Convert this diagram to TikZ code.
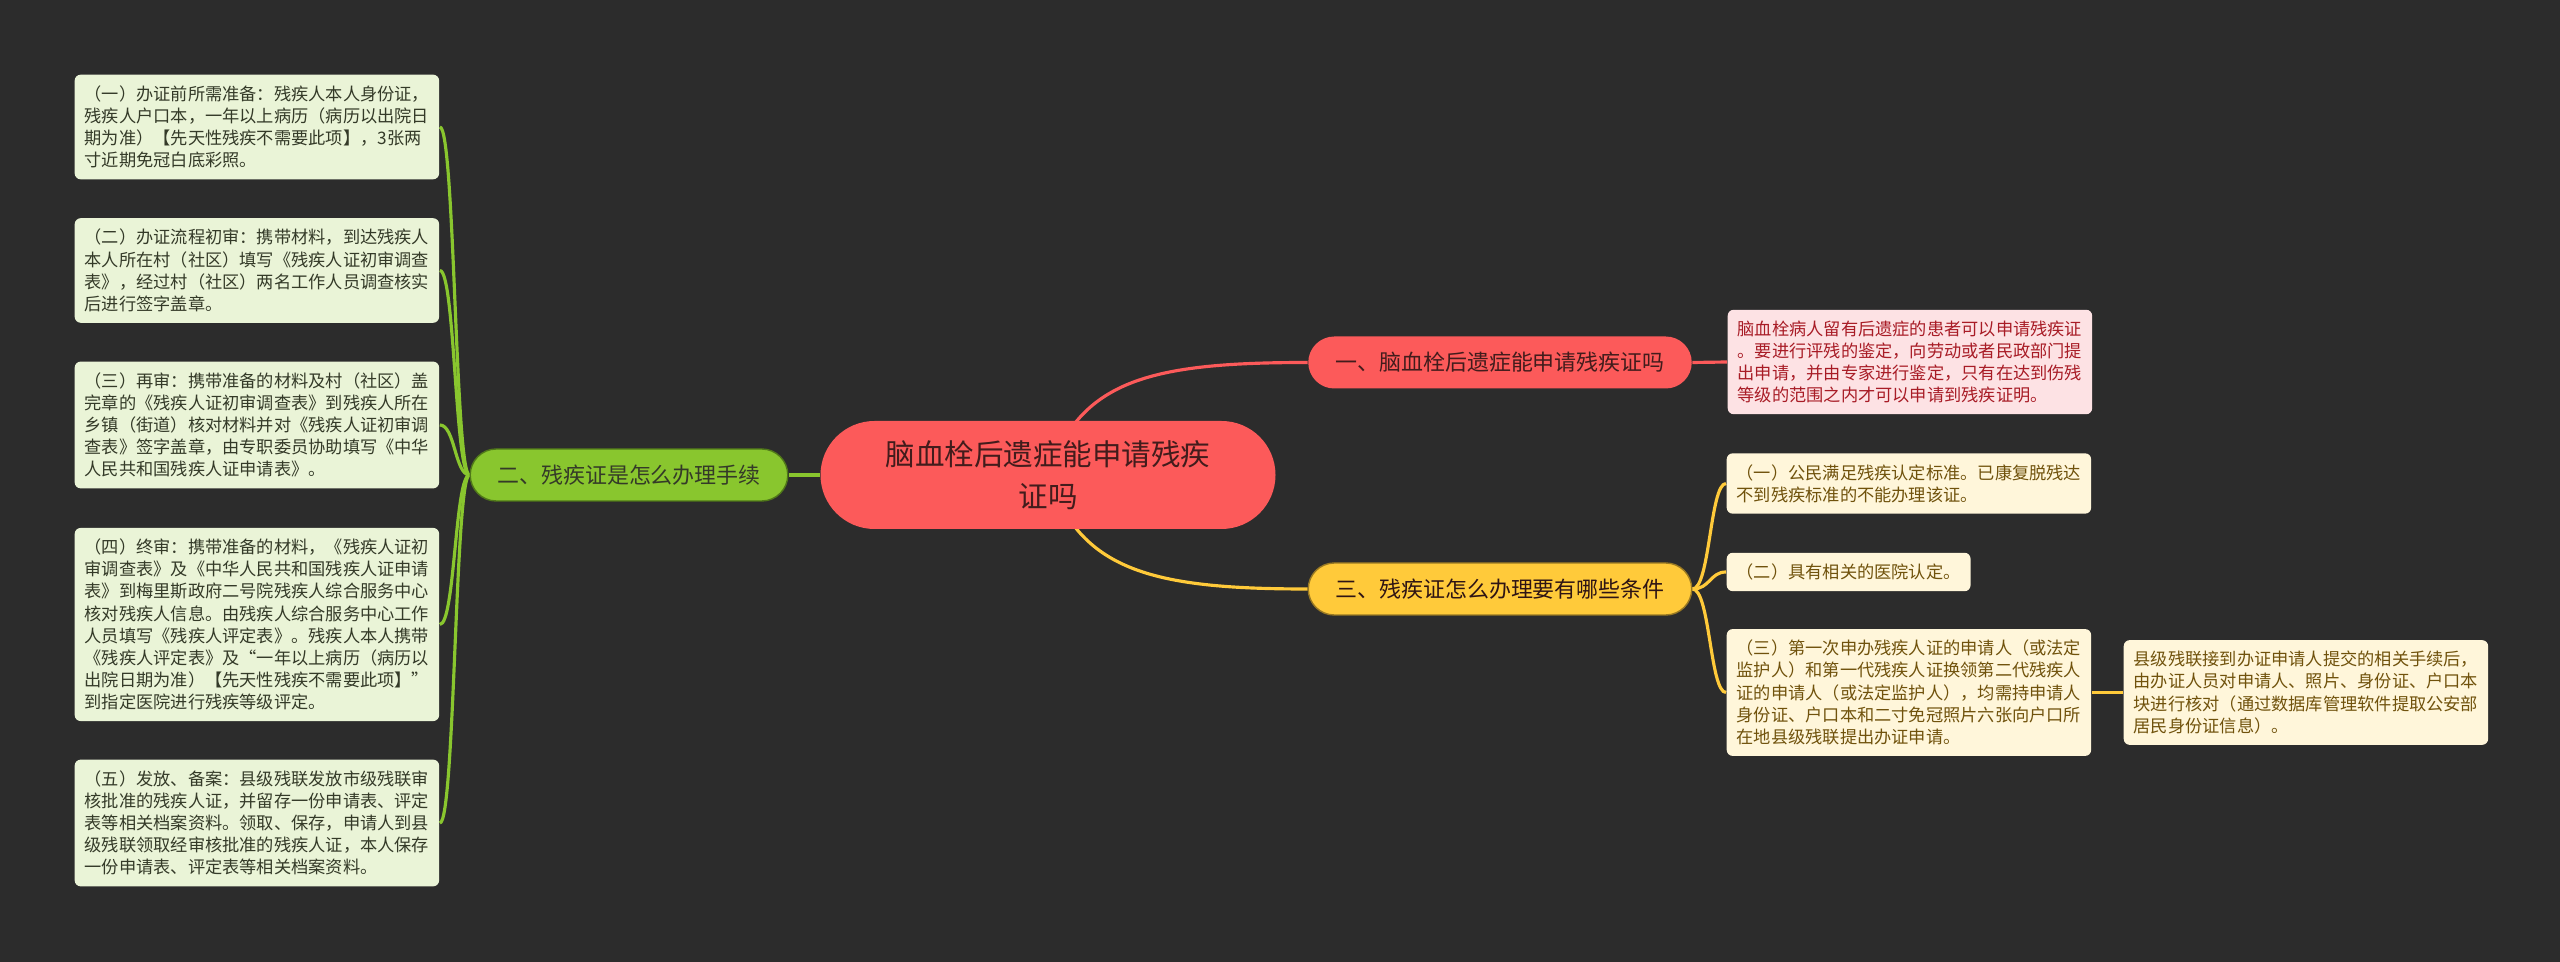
\documentclass[tikz,border=0pt]{standalone}
\usepackage{fontspec}
\setmainfont{Noto Sans CJK SC}
\usepackage{xcolor}
\usepackage{tikz}
\usetikzlibrary{positioning}
\definecolor{latar}{RGB}{44,44,44}
\definecolor{merah}{RGB}{252,90,90}
\definecolor{merahteks}{RGB}{66,28,28}
\definecolor{merahmuda}{RGB}{253,226,228}
\definecolor{merahtua}{RGB}{168,28,38}
\definecolor{hijau}{RGB}{137,198,46}
\definecolor{hijautua}{RGB}{80,120,25}
\definecolor{hijaumuda}{RGB}{234,244,215}
\definecolor{hijauteks}{RGB}{52,58,40}
\definecolor{kuning}{RGB}{255,202,58}
\definecolor{kuningmuda}{RGB}{255,246,218}
\definecolor{kuningteks}{RGB}{112,82,12}
\pgfdeclarelayer{dasar}
\pgfdeclarelayer{jalur}
\pgfsetlayers{dasar,jalur,main}

\begin{document}
\begin{tikzpicture}[
    inti/.style={fill=merah, text=merahteks, rounded corners=0.54cm,
                 minimum width=4.55cm, minimum height=1.08cm, align=center,
                 font=\fontsize{8.4pt}{11.85pt}\selectfont},
    cabang/.style={rounded corners=0.26cm, minimum height=0.52cm,
                   inner xsep=0.27cm, font=\fontsize{6.25pt}{7.5pt}\selectfont},
    daun/.style={rounded corners=0.06cm, align=left, inner xsep=0.1cm,
                 inner ysep=0.11cm, font=\fontsize{4.9pt}{6.3pt}\selectfont},
    garis/.style={line width=0.9pt}
  ]
    \begin{pgfonlayer}{dasar}
      \fill[latar] (0,0) rectangle (25.6,-9.62);
    \end{pgfonlayer}

    \node[inti] (pusat) at (10.48,-4.75) {脑血栓后遗症能申请残疾\\证吗};

    \node[cabang, fill=hijau, draw=hijautua, line width=0.4pt, text=hijauteks]
      (proses) at (6.29,-4.75) {二、残疾证是怎么办理手续};
    \node[cabang, fill=merah, text=merahteks] (bisa) at (15.0,-3.625)
      {一、脑血栓后遗症能申请残疾证吗};
    \node[cabang, fill=kuning, draw=kuning!60!black, line width=0.4pt, text=merahteks!70!black]
      (syarat) at (15.0,-5.89) {三、残疾证怎么办理要有哪些条件};

    \node[daun, fill=hijaumuda, text=hijauteks, anchor=west] (proses1) at (0.74,-1.27)
      {（一）办证前所需准备：残疾人本人身份证，\\残疾人户口本，一年以上病历（病历以出院日\\期为准）【先天性残疾不需要此项】，3张两\\寸近期免冠白底彩照。};
    \node[daun, fill=hijaumuda, text=hijauteks, anchor=west] (proses2) at (0.74,-2.705)
      {（二）办证流程初审：携带材料，到达残疾人\\本人所在村（社区）填写《残疾人证初审调查\\表》，经过村（社区）两名工作人员调查核实\\后进行签字盖章。};
    \node[daun, fill=hijaumuda, text=hijauteks, anchor=west] (proses3) at (0.74,-4.25)
      {（三）再审：携带准备的材料及村（社区）盖\\完章的《残疾人证初审调查表》到残疾人所在\\乡镇（街道）核对材料并对《残疾人证初审调\\查表》签字盖章，由专职委员协助填写《中华\\人民共和国残疾人证申请表》。};
    \node[daun, fill=hijaumuda, text=hijauteks, anchor=west] (proses4) at (0.74,-6.245)
      {（四）终审：携带准备的材料，《残疾人证初\\审调查表》及《中华人民共和国残疾人证申请\\表》到梅里斯政府二号院残疾人综合服务中心\\核对残疾人信息。由残疾人综合服务中心工作\\人员填写《残疾人评定表》。残疾人本人携带\\《残疾人评定表》及“一年以上病历（病历以\\出院日期为准）【先天性残疾不需要此项】”\\到指定医院进行残疾等级评定。};
    \node[daun, fill=hijaumuda, text=hijauteks, anchor=west] (proses5) at (0.74,-8.23)
      {（五）发放、备案：县级残联发放市级残联审\\核批准的残疾人证，并留存一份申请表、评定\\表等相关档案资料。领取、保存，申请人到县\\级残联领取经审核批准的残疾人证，本人保存\\一份申请表、评定表等相关档案资料。};

    \node[daun, fill=merahmuda, text=merahtua, anchor=west] (bisaket) at (17.27,-3.62)
      {脑血栓病人留有后遗症的患者可以申请残疾证\\。要进行评残的鉴定，向劳动或者民政部门提\\出申请，并由专家进行鉴定，只有在达到伤残\\等级的范围之内才可以申请到残疾证明。};

    \node[daun, fill=kuningmuda, text=kuningteks, anchor=west] (syarat1) at (17.26,-4.835)
      {（一）公民满足残疾认定标准。已康复脱残达\\不到残疾标准的不能办理该证。};
    \node[daun, fill=kuningmuda, text=kuningteks, anchor=west] (syarat2) at (17.26,-5.72)
      {（二）具有相关的医院认定。};
    \node[daun, fill=kuningmuda, text=kuningteks, anchor=west] (syarat3) at (17.26,-6.925)
      {（三）第一次申办残疾人证的申请人（或法定\\监护人）和第一代残疾人证换领第二代残疾人\\证的申请人（或法定监护人），均需持申请人\\身份证、户口本和二寸免冠照片六张向户口所\\在地县级残联提出办证申请。};
    \node[daun, fill=kuningmuda, text=kuningteks, anchor=west] (syaratket) at (21.23,-6.925)
      {县级残联接到办证申请人提交的相关手续后，\\由办证人员对申请人、照片、身份证、户口本\\块进行核对（通过数据库管理软件提取公安部\\居民身份证信息）。};

    \begin{pgfonlayer}{jalur}
      \draw[garis, merah] (pusat.center) .. controls (10.8,-3.8) and (11.5,-3.625) .. (bisa.west);
      \draw[garis, kuning] (pusat.center) .. controls (10.8,-5.7) and (11.5,-5.89) .. (syarat.west);
      \draw[garis, hijau] (pusat.west) -- (proses.east);

      \draw[garis, hijau] (proses.west) .. controls (4.55,-4.75) and (4.55,-1.27) .. (proses1.east);
      \draw[garis, hijau] (proses.west) .. controls (4.55,-4.75) and (4.55,-2.705) .. (proses2.east);
      \draw[garis, hijau] (proses.west) .. controls (4.55,-4.75) and (4.55,-4.25) .. (proses3.east);
      \draw[garis, hijau] (proses.west) .. controls (4.55,-4.75) and (4.55,-6.245) .. (proses4.east);
      \draw[garis, hijau] (proses.west) .. controls (4.55,-4.75) and (4.55,-8.23) .. (proses5.east);

      \draw[garis, merah] (bisa.east) -- (bisaket.west);

      \draw[garis, kuning] (syarat.east) .. controls (17.1,-5.89) and (17.1,-4.835) .. (syarat1.west);
      \draw[garis, kuning] (syarat.east) .. controls (17.1,-5.89) and (17.1,-5.72) .. (syarat2.west);
      \draw[garis, kuning] (syarat.east) .. controls (17.1,-5.89) and (17.1,-6.925) .. (syarat3.west);
      \draw[garis, kuning] (syarat3.east) -- (syaratket.west);
    \end{pgfonlayer}
  \end{tikzpicture}
\end{document}
